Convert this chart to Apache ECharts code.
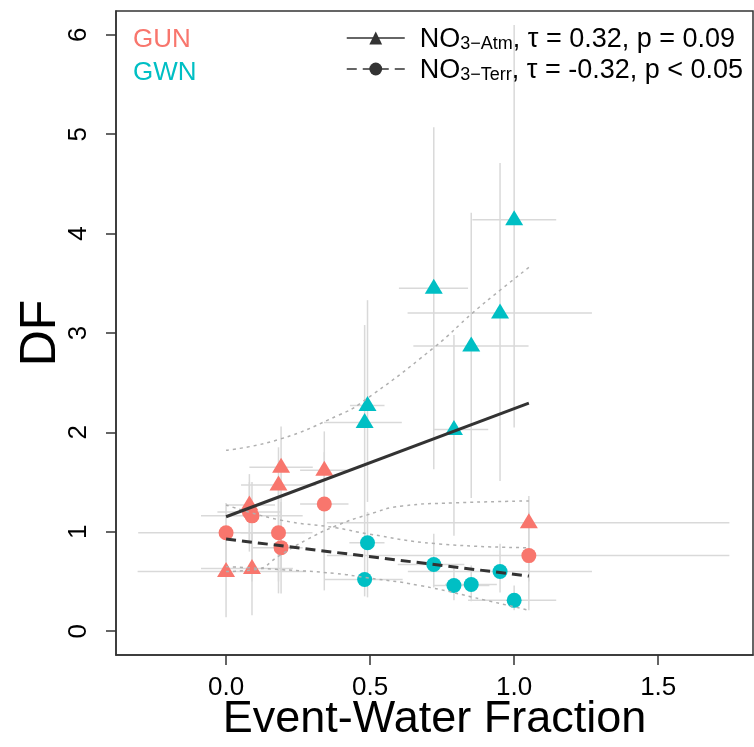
<!DOCTYPE html>
<html lang="en">
<head>
<meta charset="UTF-8">
<title>DF vs event-water fraction</title>
<script src="https://cdn.jsdelivr.net/npm/echarts@6/dist/echarts.min.js"></script>
<style>
    html, body { margin: 0; padding: 0; background: #fff; }
    #chart { width: 754px; height: 747px; }
</style>
</head>
<body>
<div id="chart"></div>
<script type="text/javascript">
    // points [x, y]
    const gunAtm = [[0, 0.60], [0.081, 1.27], [0.090, 0.63], [0.182, 1.47], [0.191, 1.65], [0.341, 1.62], [1.051, 1.09]];
    const gunTerr = [[0, 0.99], [0.081, 1.20], [0.090, 1.16], [0.182, 0.99], [0.191, 0.84], [0.341, 1.28], [1.051, 0.76]];
    const gwnAtm = [[0.481, 2.10], [0.491, 2.27], [0.721, 3.45], [0.791, 2.03], [0.851, 2.87], [0.951, 3.20], [1.000, 4.14]];
    const gwnTerr = [[0.481, 0.52], [0.491, 0.89], [0.721, 0.67], [0.791, 0.46], [0.851, 0.47], [0.951, 0.60], [1.000, 0.31]];

    // error bars [xlo, xhi, ylo, yhi]
    const gunAtmErr = [[-0.307, 0.278, 0.14, 1.05], [0.0, 0.17, 0.9, 1.58], [-0.087, 0.232, 0.16, 1.0], [0.052, 0.313, 0.38, 1.85], [0.081, 0.301, 0.6, 2.06], [0.257, 0.419, 0.41, 2.01], [0.35, 1.747, 0.5, 1.36]];
    const gunTerrErr = [[-0.305, 0.274, 0.7, 1.29], [-0.03, 0.19, 0.8, 1.5], [-0.087, 0.266, 0.5, 1.5], [0.05, 0.30, 0.5, 1.5], [0.093, 0.266, 0.38, 1.3], [0.257, 0.425, 0.6, 1.8], [0.35, 1.747, 0.21, 1.2]];
    const gwnAtmErr = [[0.34, 0.61, 0.9, 3.08], [0.43, 0.55, 1.3, 3.33], [0.60, 0.84, 1.63, 5.07], [0.72, 0.91, 0.96, 2.98], [0.65, 1.05, 1.34, 4.21], [0.63, 1.27, 1.51, 4.71], [0.855, 1.146, 2.05, 6.10]];
    const gwnTerrErr = [[0.341, 0.613, 0.35, 0.9], [0.428, 0.55, 0.34, 1.2], [0.596, 0.827, 0.44, 0.98], [0.718, 0.914, 0.31, 0.64], [0.76, 0.94, 0.30, 0.66], [0.631, 1.27, 0.39, 0.88], [0.84, 1.146, 0.21, 0.46]];

    // fits and confidence bands
    const atmFit = [[0, 1.151], [1.051, 2.295]];
    const terrFit = [[0, 0.927], [1.051, 0.554]];
    const atmUpper = [[0, 1.82], [0.185, 1.93], [0.396, 2.18], [0.465, 2.29], [0.72, 2.85], [0.859, 3.21], [0.951, 3.43], [1.051, 3.66]];
    const atmLower = [[0, 0.60], [0.104, 0.62], [0.185, 0.76], [0.28, 0.92], [0.382, 1.06], [0.49, 1.17], [0.613, 1.26], [0.789, 1.29], [1.051, 1.31]];
    const terrUpper = [[0, 1.27], [0.185, 1.12], [0.382, 1.04], [0.49, 0.98], [0.729, 0.88], [1.051, 0.84]];
    const terrLower = [[0, 0.65], [0.185, 0.62], [0.382, 0.58], [0.482, 0.54], [0.671, 0.46], [0.903, 0.31], [1.051, 0.21]];

    const xTicks = [0, 0.5, 1.0, 1.5];
    const yTicks = [0, 1, 2, 3, 4, 5, 6];
    const xRange = [-0.382, 1.829];
    const yRange = [-0.24, 6.24];

    const GUN = '#F8766D';
    const GWN = '#00BFC4';
    const FONT = 'Liberation Sans, Arial, Helvetica, sans-serif';

    const chart = echarts.init(document.getElementById('chart'), null, { renderer: 'canvas' });

    function withErr(pts, err) {
        return pts.map((p, i) => [p[0], p[1]].concat(err[i]));
    }

    function errSeries(data) {
        return {
            type: 'custom',
            silent: true,
            z: 1,
            data: data,
            encode: { x: 0, y: 1 },
            renderItem: function (params, api) {
                const y = api.value(1), x = api.value(0);
                const h1 = api.coord([api.value(2), y]);
                const h2 = api.coord([api.value(3), y]);
                const v1 = api.coord([x, api.value(4)]);
                const v2 = api.coord([x, api.value(5)]);
                const st = { stroke: '#d9d9d9', lineWidth: 1.5 };
                return {
                    type: 'group',
                    children: [
                        { type: 'line', shape: { x1: h1[0], y1: h1[1], x2: h2[0], y2: h2[1] }, style: st },
                        { type: 'line', shape: { x1: v1[0], y1: v1[1], x2: v2[0], y2: v2[1] }, style: st }
                    ]
                };
            }
        };
    }

    function band(data) {
        return {
            type: 'line', data: data, smooth: true, symbol: 'none', silent: true, z: 4,
            lineStyle: { color: '#b0b0b0', width: 1.5, type: [3, 4] }
        };
    }

    function pts(name, data, color, tri) {
        return {
            name: name, type: 'scatter', data: data, z: 3,
            symbol: tri ? 'triangle' : 'circle',
            symbolSize: tri ? [18, 15] : 15,
            symbolOffset: tri ? [0, -2] : [0, 0],
            itemStyle: { color: color, opacity: 1 }
        };
    }

    const axisLine = { show: true, onZero: false, lineStyle: { color: '#333', width: 1.5 } };
    const tickStyle = { color: '#333', width: 1.5 };

    const option = {
        animation: false,
        textStyle: { fontFamily: FONT },
        grid: { left: 116, right: 1, top: 11, bottom: 89, show: true, borderColor: '#333', borderWidth: 1.5 },
        xAxis: {
            type: 'value', min: xRange[0], max: xRange[1],
            name: 'Event-Water Fraction', nameLocation: 'middle', nameGap: 42, nameMoveOverlap: false,
            nameTextStyle: { fontSize: 45, color: '#000', fontFamily: FONT },
            axisLine: axisLine,
            splitLine: { show: false },
            axisTick: { show: true, customValues: xTicks, length: 10, lineStyle: tickStyle },
            axisLabel: { customValues: xTicks, fontSize: 26, color: '#000', margin: 20, formatter: v => v.toFixed(1) }
        },
        yAxis: {
            type: 'value', min: yRange[0], max: yRange[1],
            name: 'DF', nameLocation: 'middle', nameGap: 50, nameRotate: 90, nameMoveOverlap: false,
            nameTextStyle: { fontSize: 50, color: '#000', fontFamily: FONT },
            axisLine: axisLine,
            splitLine: { show: false },
            axisTick: { show: true, customValues: yTicks, length: 10, lineStyle: tickStyle },
            axisLabel: { customValues: yTicks, fontSize: 26, color: '#000', margin: 24, rotate: 90 }
        },
        legend: {
            data: ['atm', 'terr'],
            orient: 'vertical', left: 341, top: 21,
            itemWidth: 58, itemHeight: 16, itemGap: 4,
            lineStyle: { width: 1.5 },
            textStyle: {
                color: '#000', padding: [0, 0, 0, 10],
                rich: {
                    b: { fontSize: 27, lineHeight: 30, verticalAlign: 'bottom', fontFamily: FONT, color: '#000' },
                    s: { fontSize: 18, lineHeight: 14, verticalAlign: 'bottom', fontFamily: FONT, color: '#000' }
                }
            },
            formatter: function (name) {
                if (name === 'atm') return '{b|NO}{s|3\u2212Atm}{b|, \u03c4 = 0.32, p = 0.09}';
                return '{b|NO}{s|3\u2212Terr}{b|, \u03c4 = -0.32, p < 0.05}';
            }
        },
        graphic: [
            { type: 'text', left: 133, top: 27, style: { text: 'GUN', fill: GUN, fontSize: 26, fontFamily: FONT } },
            { type: 'text', left: 133, top: 60, style: { text: 'GWN', fill: GWN, fontSize: 26, fontFamily: FONT } }
        ],
        series: [
            errSeries(withErr(gunAtm, gunAtmErr)),
            errSeries(withErr(gunTerr, gunTerrErr)),
            errSeries(withErr(gwnAtm, gwnAtmErr)),
            errSeries(withErr(gwnTerr, gwnTerrErr)),
            pts('GUN', gunAtm, GUN, true),
            pts('GUN', gunTerr, GUN, false),
            pts('GWN', gwnAtm, GWN, true),
            pts('GWN', gwnTerr, GWN, false),
            band(atmUpper), band(atmLower), band(terrUpper), band(terrLower),
            {
                name: 'atm', type: 'line', data: atmFit, symbol: 'triangle', showSymbol: false, z: 5, silent: true,
                itemStyle: { color: '#333' }, lineStyle: { color: '#333', width: 3, type: 'solid' }
            },
            {
                name: 'terr', type: 'line', data: terrFit, symbol: 'circle', showSymbol: false, z: 5, silent: true,
                itemStyle: { color: '#333' }, lineStyle: { color: '#333', width: 3, type: [10, 6] }
            }
        ]
    };

    chart.setOption(option);
    window.addEventListener('resize', chart.resize);
</script>
</body>
</html>
